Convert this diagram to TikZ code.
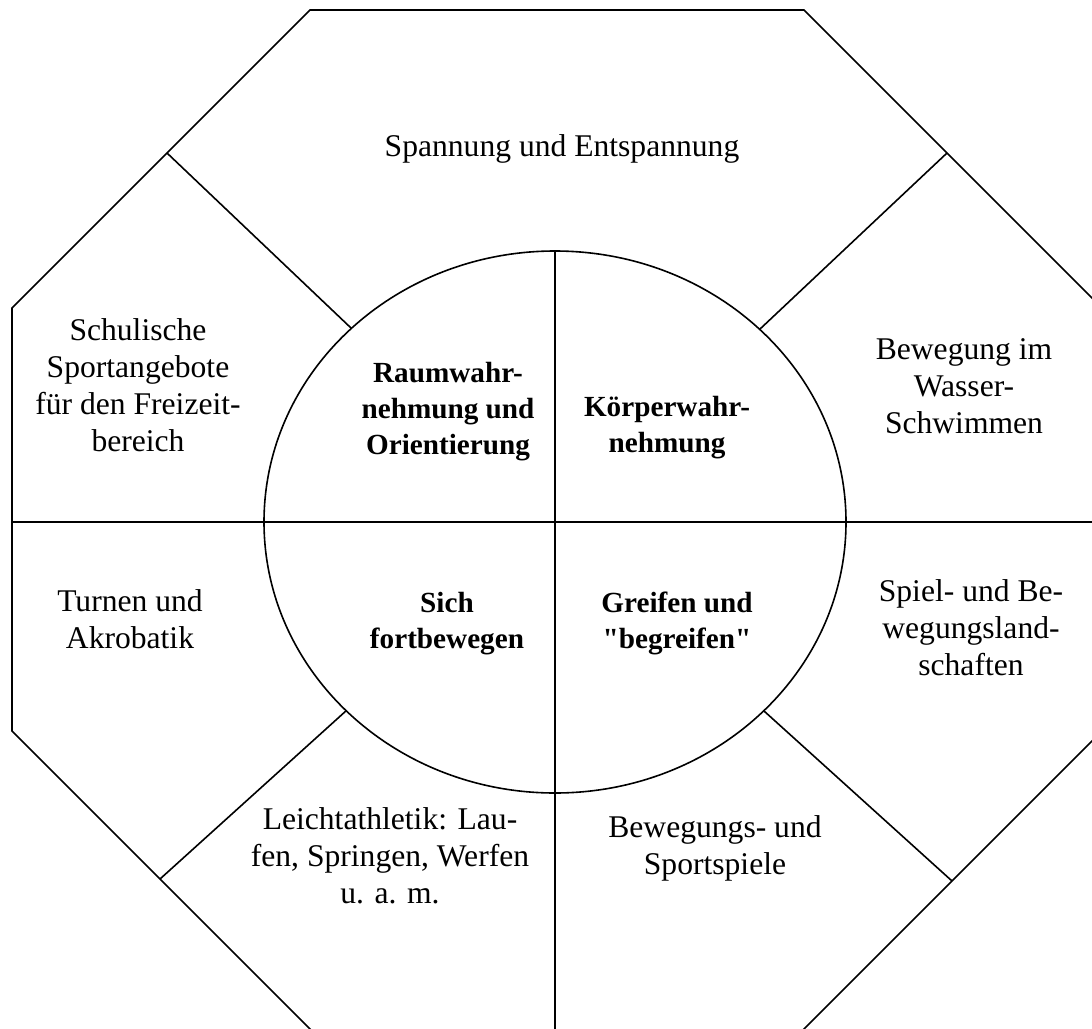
\documentclass[tikz,border=0pt]{standalone}
\usepackage{fontspec}
\setmainfont{Liberation Serif}[Ligatures=TeXOff]
\usetikzlibrary{shapes.geometric}

\tikzset{
  frame/.style={line width=0.8pt},
  area/.style={align=center, font=\fontsize{15.8}{18.5}\selectfont},
  core/.style={align=center, font=\fontsize{14.6}{18}\selectfont\bfseries}
}

\begin{document}
\begin{tikzpicture}[x=0.5pt, y=-0.5pt]
  \useasboundingbox (0,0) rectangle (1092,1028);
  \clip (0,0) rectangle (1092,1028);

  % outer octagon (right and bottom sides lie off the page)
  \coordinate (o1) at (310,10);
  \coordinate (o2) at (804,10);
  \coordinate (o3) at (1102,308);
  \coordinate (o4) at (1102,731);
  \coordinate (o5) at (801,1032);
  \coordinate (o6) at (313,1032);
  \coordinate (o7) at (12,731);
  \coordinate (o8) at (12,308);
  \draw[frame] (o1) -- (o2) -- (o3) -- (o4) -- (o5) -- (o6) -- (o7) -- (o8) -- cycle;

  % inner ring
  \node[ellipse, draw, frame, minimum width=291pt, minimum height=271pt,
        inner sep=0pt, outer sep=0pt] (ring) at (555,522) {};

  % cross and spokes
  \coordinate (west) at (12,522);
  \coordinate (east) at (1102,522);
  \coordinate (south) at (555,1032);
  \coordinate (tl) at (167,153);
  \coordinate (tr) at (947,153);
  \coordinate (bl) at (160,879);
  \coordinate (br) at (952,881);
  \draw[frame] (west) -- (east);
  \draw[frame] (ring.north) -- (south);
  \draw[frame] (ring) -- (tl);
  \draw[frame] (ring) -- (tr);
  \draw[frame] (ring) -- (bl);
  \draw[frame] (ring) -- (br);

  % outer fields
  \node[area] (spannung) at (562,149) {Spannung und Entspannung};
  \node[area] (freizeit) at (138,385) {Schulische\\Sportangebote\\für den Freizeit-\\bereich};
  \node[area] (wasser) at (964,386) {Bewegung im\\Wasser-\\Schwimmen};
  \node[area] (turnen) at (130,619) {Turnen und\\Akrobatik};
  \node[area] (landschaft) at (971,628) {Spiel- und Be-\\wegungsland-\\schaften};
  \node[area] (leicht) at (390,856) {Leichtathletik: Lau-\\fen, Springen, Werfen\\u. a. m.};
  \node[area] (sportspiele) at (715,848) {Bewegungs- und\\Sportspiele};

  % inner fields
  \node[core] (raum) at (448,412) {Raumwahr-\\nehmung und\\Orientierung};
  \node[core] (koerper) at (667,428) {Körperwahr-\\nehmung};
  \node[core] (fortbew) at (447,624) {Sich\\fortbewegen};
  \node[core] (greifen) at (677,623) {Greifen und\\"begreifen"};
\end{tikzpicture}
\end{document}
